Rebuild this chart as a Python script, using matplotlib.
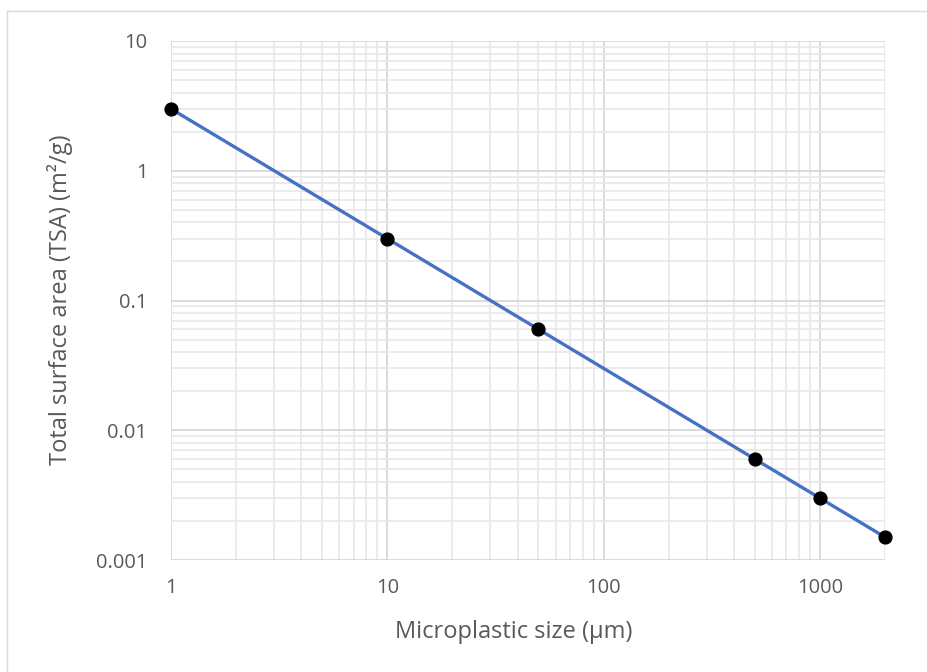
import matplotlib.pyplot as plt
from matplotlib.ticker import LogLocator, FixedLocator, FixedFormatter, NullFormatter
from matplotlib.lines import Line2D

sizes = [1, 10, 50, 500, 1000, 2000]
tsa = [3, 0.3, 0.06, 0.006, 0.003, 0.0015]
x_ticks = [1, 10, 100, 1000]
x_labels = ['1', '10', '100', '1000']
y_ticks = [0.001, 0.01, 0.1, 1, 10]
y_labels = ['0.001', '0.01', '0.1', '1', '10']

plt.rcParams['font.family'] = ['Open Sans', 'DejaVu Sans']
text_col = '#595959'
W, H = 927, 672

fig = plt.figure(figsize=(W / 100, H / 100), dpi=100)
ax = fig.add_axes([171/W, 1-560/H, (885-171)/W, (560-41)/H])
ax.set_xscale('log')
ax.set_yscale('log')
ax.set_xlim(1, 2000)
ax.set_ylim(0.001, 10)

ax.plot(sizes, tsa, color='#4472C4', lw=2.4, zorder=3)
ax.scatter(sizes, tsa, s=85, color='black', zorder=4, clip_on=False)

ax.xaxis.set_major_locator(FixedLocator(x_ticks))
ax.xaxis.set_major_formatter(FixedFormatter(x_labels))
ax.yaxis.set_major_locator(FixedLocator(y_ticks))
ax.yaxis.set_major_formatter(FixedFormatter(y_labels))
ax.xaxis.set_minor_locator(LogLocator(base=10, subs=range(2, 10), numticks=20))
ax.yaxis.set_minor_locator(LogLocator(base=10, subs=range(2, 10), numticks=20))
ax.xaxis.set_minor_formatter(NullFormatter())
ax.yaxis.set_minor_formatter(NullFormatter())

ax.grid(which='major', color='#d4d4d4', lw=1.2, zorder=1)
ax.grid(which='minor', color='#e8e8e8', lw=1.2, zorder=0)
ax.set_axisbelow(True)
for s in ax.spines.values():
    s.set_visible(False)
ax.tick_params(which='both', length=0, labelsize=14.5, labelcolor=text_col)
ax.tick_params(axis='x', pad=13)
ax.tick_params(axis='y', pad=17)

# axis titles, placed like the Excel chart
fig.text(514/W, 1-632/H, 'Microplastic size (µm)', fontsize=17, color=text_col,
         ha='center', va='center')
fig.text(60/W, 1-300/H, 'Total surface area (TSA) (m²/g)', fontsize=17, color=text_col,
         ha='center', va='center', rotation=90)

# chart border (only left and top edges are inside the picture)
fig.add_artist(Line2D([7/W, 7/W], [0, 1-11/H], transform=fig.transFigure, color='#d9d9d9', lw=1))
fig.add_artist(Line2D([7/W, 1], [1-11/H, 1-11/H], transform=fig.transFigure, color='#d9d9d9', lw=1))

fig.savefig('out.png', dpi=100)
